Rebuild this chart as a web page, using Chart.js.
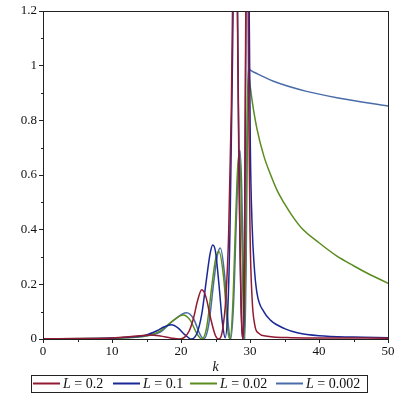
<!DOCTYPE html>
<html>
<head>
<meta charset="utf-8">
<script src="https://cdn.jsdelivr.net/npm/chart.js@4.4.1/dist/chart.umd.min.js"></script>
<style>
  html, body { margin: 0; padding: 0; background: #fff; }
  #wrap { width: 399px; height: 399px; }
</style>
</head>
<body>
<div id="wrap"><canvas id="chart" width="399" height="399"></canvas></div>
<script>
// === DATOS ===
const etiquetas = ['0.2', '0.1', '0.02', '0.002'];
const colores = ['#921a32', '#1a2896', '#5b8c1e', '#4a6ca8'];

const kRojo = [0, 6, 10, 12, 14, 15.5, 17, 18.5, 19.8, 20.5, 21.2, 21.8, 22.4, 23.0, 23.6, 24.3, 25.0, 25.5,
  26.0, 26.5, 26.9, 27.3, 27.6, 27.85, 28.1, 28.4, 28.7, 29.0, 29.2, 29.45, 29.6, 29.8, 30.0, 30.3, 30.7,
  31.2, 32.5, 36, 42, 50];
const yRojo = [0.001, 0.002, 0.004, 0.007, 0.012, 0.015, 0.011, 0.004, 0.0, 0.006, 0.03, 0.075, 0.14, 0.18, 0.155, 0.075, 0.012, 0.0,
  0.03, 0.15, 0.38, 0.85, 1.5, 1.9, 1.4, 0.6, 0.12, 0.0, 0.3, 1.5, 1.7, 0.9, 0.4, 0.15, 0.05,
  0.022, 0.01, 0.005, 0.004, 0.003];

const kAzul = [0, 8, 12, 15, 16.5, 17.6, 18.6, 19.6, 20.5, 21.5, 22.3, 23.0, 23.7, 24.2, 24.6, 25.0, 25.5, 26.0, 26.4,
  26.8, 27.1, 27.45, 27.75, 27.9, 28.05, 28.3, 28.55, 28.8, 29.0, 29.15, 29.35, 29.55, 29.7, 29.85, 30.05, 30.3,
  30.6, 31.0, 32.0, 33.0, 35.0, 37.0, 40.0, 45.0, 50.0];
const yAzul = [0.001, 0.002, 0.006, 0.015, 0.03, 0.045, 0.052, 0.04, 0.017, 0.0, 0.02, 0.09, 0.22, 0.31, 0.344, 0.32, 0.2, 0.06, 0.005,
  0.12, 0.4, 1.0, 1.6, 1.8, 1.6, 0.9, 0.35, 0.06, 0.0, 0.15, 0.9, 1.8, 1.9, 1.3, 0.7, 0.42,
  0.27, 0.17, 0.1, 0.068, 0.038, 0.022, 0.012, 0.007, 0.005];

const kVerde = [0, 8, 12, 15, 17, 19, 20.3, 21.3, 22.3, 23.0, 23.7, 24.5, 25.0, 25.5, 26.2, 26.8, 27.1,
  27.5, 27.9, 28.2, 28.45, 28.7, 28.95, 29.15, 29.35, 29.55, 29.75, 30.0, 30.5, 31.0, 32.0, 33.0, 34.0,
  35.0, 36.0, 37.5, 40.0, 42.5, 45.0, 47.5, 50.0];
const yVerde = [0.001, 0.002, 0.005, 0.012, 0.03, 0.07, 0.088, 0.07, 0.02, 0.0, 0.04, 0.2, 0.29, 0.32, 0.22, 0.03, 0.0,
  0.12, 0.42, 0.62, 0.68, 0.55, 0.2, 0.0, 0.25, 0.75, 0.985, 0.93, 0.84, 0.77, 0.67, 0.6, 0.54,
  0.495, 0.455, 0.405, 0.352, 0.305, 0.268, 0.234, 0.204];

const kAcero = [0, 8, 12, 15, 17, 19, 20.8, 21.8, 22.7, 23.3, 24.0, 24.8, 25.3, 25.7, 26.3, 26.9, 27.2,
  27.6, 28.0, 28.3, 28.55, 28.8, 29.05, 29.25, 29.45, 29.65, 29.85, 30.5, 33.4, 38.2, 43.0, 50.0];
const yAcero = [0.001, 0.002, 0.005, 0.011, 0.025, 0.07, 0.096, 0.075, 0.02, 0.0, 0.05, 0.22, 0.31, 0.333, 0.24, 0.04, 0.0,
  0.12, 0.42, 0.63, 0.69, 0.55, 0.2, 0.0, 0.3, 0.8, 0.985, 0.977, 0.943, 0.906, 0.881, 0.852];

const series = [[kRojo, yRojo], [kAzul, yAzul], [kVerde, yVerde], [kAcero, yAcero]];

const ticksX = [0, 10, 20, 30, 40, 50];
const ticksY = [0, 0.2, 0.4, 0.6, 0.8, 1, 1.2];
const menoresX = [5, 15, 25, 35, 45];
const menoresY = [0.1, 0.3, 0.5, 0.7, 0.9, 1.1];

const fuente = 'Liberation Serif';

// marco, ticks menores, título del eje y leyenda
const extras = {
  id: 'extras',
  afterDraw(chart) {
    const { ctx, chartArea: a, scales } = chart;
    ctx.save();
    ctx.strokeStyle = '#222';
    ctx.lineWidth = 1;
    ctx.strokeRect(a.left + 0.5, a.top + 0.5, a.right - a.left, a.bottom - a.top);
    ctx.beginPath();
    menoresX.forEach(v => {
      const x = Math.round(scales.x.getPixelForValue(v)) + 0.5;
      ctx.moveTo(x, a.bottom); ctx.lineTo(x, a.bottom + 3);
    });
    menoresY.forEach(v => {
      const y = Math.round(scales.y.getPixelForValue(v)) + 0.5;
      ctx.moveTo(a.left, y); ctx.lineTo(a.left - 2, y);
    });
    ctx.stroke();

    ctx.fillStyle = '#111';
    ctx.font = 'italic 14px "' + fuente + '"';
    ctx.textAlign = 'center';
    ctx.textBaseline = 'alphabetic';
    ctx.fillText('k', (a.left + a.right) / 2, 371);

    // leyenda
    const top = 375, alto = 17;
    const xs = [33, 113, 190, 276];
    ctx.textAlign = 'left';
    etiquetas.forEach((t, i) => {
      ctx.strokeStyle = colores[i];
      ctx.lineWidth = 2;
      ctx.beginPath();
      ctx.moveTo(xs[i], top + 8.5); ctx.lineTo(xs[i] + 27, top + 8.5);
      ctx.stroke();
      let x = xs[i] + 30;
      ctx.font = 'italic 14px "' + fuente + '"';
      ctx.fillText('L', x, top + 13);
      x += ctx.measureText('L').width;
      ctx.font = '14px "' + fuente + '"';
      ctx.fillText(' = ' + t, x, top + 13);
    });
    ctx.strokeStyle = '#222';
    ctx.lineWidth = 1;
    ctx.strokeRect(31.5, top + 0.5, 336, alto);
    ctx.restore();
  }
};

const ctx = document.getElementById('chart');
new Chart(ctx, {
  type: 'line',
  data: {
    datasets: series.map(([ks, ys], i) => ({
      label: 'L = ' + etiquetas[i],
      data: ks.map((k, j) => ({ x: k, y: ys[j] })),
      borderColor: colores[i],
      borderWidth: 1.5,
      pointRadius: 0,
      fill: false,
      cubicInterpolationMode: 'monotone',
      clip: 0
    }))
  },
  options: {
    responsive: false,
    animation: false,
    layout: { padding: { top: 11, right: 11, left: 0, bottom: 0 } },
    plugins: { legend: { display: false }, tooltip: { enabled: false } },
    scales: {
      x: {
        type: 'linear',
        min: 0, max: 50,
        afterFit: s => { s.height = 60; },
        afterBuildTicks: s => { s.ticks = ticksX.map(v => ({ value: v })); },
        grid: { drawOnChartArea: false, tickLength: 4, color: '#222' },
        border: { color: '#222' },
        ticks: { color: '#111', font: { family: fuente, size: 13 }, padding: 1, maxRotation: 0 }
      },
      y: {
        type: 'linear',
        min: 0, max: 1.2,
        afterFit: s => { s.width = 43; },
        afterBuildTicks: s => { s.ticks = ticksY.map(v => ({ value: v })); },
        grid: { drawOnChartArea: false, tickLength: 4, color: '#222' },
        border: { color: '#222' },
        ticks: {
          color: '#111', font: { family: fuente, size: 13 }, padding: 2,
          callback: v => String(Number(v.toFixed(1)))
        }
      }
    }
  },
  plugins: [extras]
});
</script>
</body>
</html>
